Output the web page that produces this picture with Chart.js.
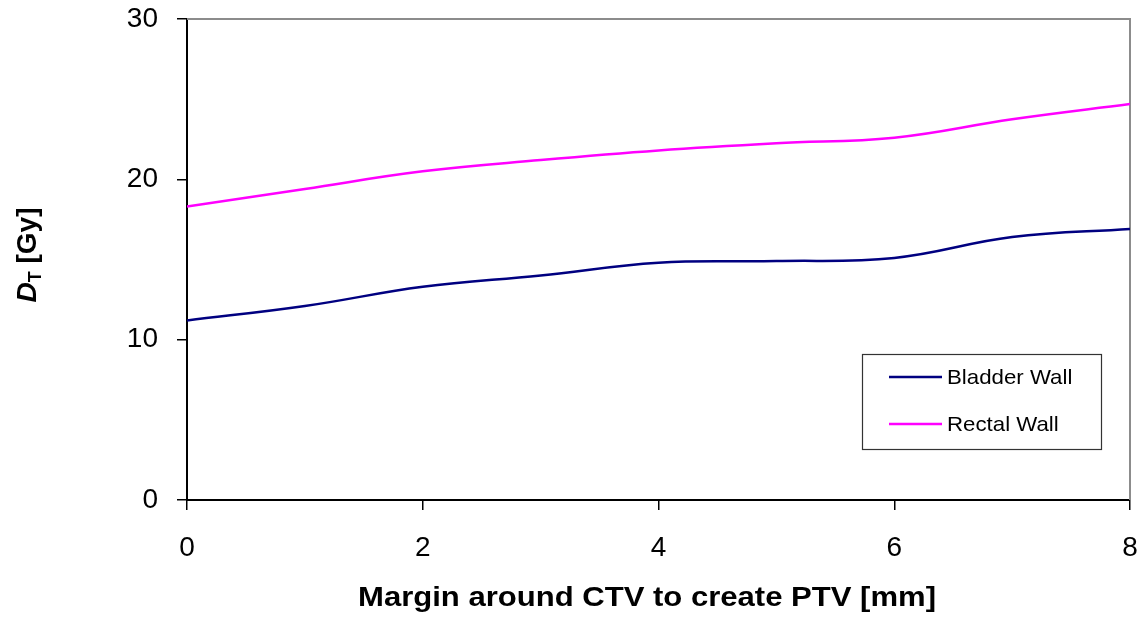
<!DOCTYPE html>
<html>
<head>
<meta charset="utf-8">
<title>Dose versus PTV margin</title>
<script src="https://cdn.jsdelivr.net/npm/chart.js@4"></script>
<style>
  html, body { margin: 0; padding: 0; background: #ffffff; }
  #wrap { width: 1145px; height: 617px; position: relative; }
</style>
</head>
<body>
<div id="wrap"><canvas id="chart" width="1145" height="617"></canvas></div>
<script>
// Margin around CTV (mm)
const margins = [0, 1, 2, 3, 4, 5, 6, 7, 8];
// D_T for each organ wall (Gy)
const bladderWall = [11.2, 12.1, 13.3, 14.0, 14.8, 14.9, 15.1, 16.4, 16.9];
const rectalWall  = [18.3, 19.4, 20.5, 21.2, 21.8, 22.25, 22.6, 23.75, 24.7];
const seriesNames = ['Bladder Wall', 'Rectal Wall'];
const xTitle = 'Margin around CTV to create PTV [mm]';
const yTitleMain = 'D';
const yTitleSub = 'T';
const yTitleRest = ' [Gy]';

const FONT = '"Liberation Sans", Arial, Helvetica, sans-serif';

function toPoints(xs, ys) {
  return xs.map((x, i) => ({ x: x, y: ys[i] }));
}

// Keep the plot area fixed: no extra room for overhanging tick labels
function clearScalePadding(scale) {
  scale.paddingTop = 0;
  scale.paddingBottom = 0;
  scale.paddingLeft = 0;
  scale.paddingRight = 0;
}

// Gray frame on the top and right edges of the plot area
const framePlugin = {
  id: 'frame',
  beforeDatasetsDraw(chart) {
    const { ctx, chartArea: a } = chart;
    ctx.save();
    ctx.strokeStyle = '#8c8c8c';
    ctx.lineWidth = 2;
    ctx.beginPath();
    ctx.moveTo(a.left, a.top);
    ctx.lineTo(a.right, a.top);
    ctx.lineTo(a.right, a.bottom);
    ctx.stroke();
    ctx.restore();
  }
};

// Axis titles (the y title carries a subscript)
const titlesPlugin = {
  id: 'titles',
  afterDraw(chart) {
    const { ctx } = chart;
    ctx.save();
    ctx.fillStyle = '#000000';
    // x title, slightly widened
    ctx.save();
    ctx.translate(647, 606);
    ctx.scale(1.15, 1);
    ctx.font = 'bold 27px ' + FONT;
    ctx.textAlign = 'center';
    ctx.textBaseline = 'alphabetic';
    ctx.fillText(xTitle, 0, 0);
    ctx.restore();

    // y title, rotated
    const mainFont = 'italic bold 28px ' + FONT;
    const subFont = 'bold 18px ' + FONT;
    const restFont = 'bold 28px ' + FONT;
    ctx.font = mainFont; const w1 = ctx.measureText(yTitleMain).width;
    ctx.font = subFont;  const w2 = ctx.measureText(yTitleSub).width;
    ctx.font = restFont; const w3 = ctx.measureText(yTitleRest).width;
    const total = w1 + w2 + w3;
    ctx.translate(36, 255);
    ctx.rotate(-Math.PI / 2);
    ctx.textAlign = 'left';
    let x = -total / 2;
    ctx.font = mainFont; ctx.fillText(yTitleMain, x, 0); x += w1;
    ctx.font = subFont;  ctx.fillText(yTitleSub, x, 5); x += w2;
    ctx.font = restFont; ctx.fillText(yTitleRest, x, 0);
    ctx.restore();
  }
};

// Boxed legend inside the plot area
const boxLegendPlugin = {
  id: 'boxLegend',
  afterDatasetsDraw(chart) {
    const { ctx } = chart;
    const left = 862, top = 354, w = 239, h = 95;
    ctx.save();
    ctx.fillStyle = '#ffffff';
    ctx.fillRect(left, top, w, h);
    ctx.strokeStyle = '#333333';
    ctx.lineWidth = 1.2;
    ctx.strokeRect(left + 0.5, top + 0.5, w, h);
    chart.data.datasets.forEach((ds, i) => {
      const y = top + 23 + i * 47;
      ctx.strokeStyle = ds.borderColor;
      ctx.lineWidth = 2.5;
      ctx.beginPath();
      ctx.moveTo(left + 27, y);
      ctx.lineTo(left + 80, y);
      ctx.stroke();
      ctx.save();
      ctx.translate(left + 85, y + 1);
      ctx.scale(1.06, 1);
      ctx.font = '21px ' + FONT;
      ctx.textBaseline = 'middle';
      ctx.textAlign = 'left';
      ctx.fillStyle = '#000000';
      ctx.fillText(ds.label, 0, 0);
      ctx.restore();
    });
    ctx.restore();
  }
};

new Chart(document.getElementById('chart'), {
  type: 'line',
  data: {
    datasets: [
      {
        label: seriesNames[0],
        data: toPoints(margins, bladderWall),
        borderColor: '#000080',
        borderWidth: 2.5,
        pointRadius: 0,
        tension: 0.4,
        fill: false
      },
      {
        label: seriesNames[1],
        data: toPoints(margins, rectalWall),
        borderColor: '#ff00ff',
        borderWidth: 2.5,
        pointRadius: 0,
        tension: 0.4,
        fill: false
      }
    ]
  },
  options: {
    responsive: false,
    animation: false,
    layout: { padding: { top: 19, right: 15, left: 0, bottom: 0 } },
    plugins: {
      legend: { display: false },
      tooltip: { enabled: false },
      title: { display: false }
    },
    scales: {
      x: {
        type: 'linear',
        min: 0,
        max: 8,
        afterFit(scale) { scale.height = 117; clearScalePadding(scale); },
        ticks: {
          stepSize: 2,
          color: '#000000',
          padding: 21,
          font: { family: FONT, size: 28 }
        },
        grid: {
          drawOnChartArea: false,
          drawTicks: true,
          tickLength: 10,
          color: '#000000',
          lineWidth: 1.5
        },
        border: { display: true, color: '#000000', width: 2 }
      },
      y: {
        type: 'linear',
        min: 0,
        max: 30,
        afterFit(scale) { scale.width = 187; clearScalePadding(scale); },
        ticks: {
          stepSize: 10,
          color: '#000000',
          padding: 19,
          font: { family: FONT, size: 28 }
        },
        grid: {
          drawOnChartArea: false,
          drawTicks: true,
          tickLength: 10,
          color: '#000000',
          lineWidth: 1.5
        },
        border: { display: true, color: '#000000', width: 2 }
      }
    }
  },
  plugins: [framePlugin, boxLegendPlugin, titlesPlugin]
});
</script>
</body>
</html>
